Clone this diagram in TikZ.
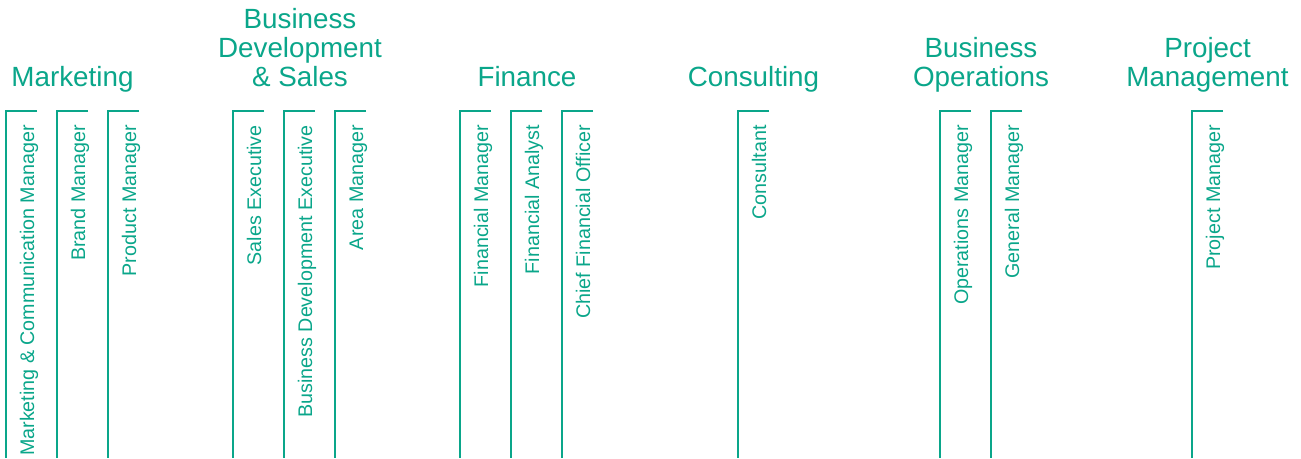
\documentclass[tikz,border=0pt]{standalone}
\usepackage{fontspec}
\setmainfont{Liberation Sans}
\definecolor{jobgreen}{RGB}{10,166,138}

\begin{document}
\begin{tikzpicture}[x=1pt,y=-1pt,
  rail/.style={draw=jobgreen,line width=1.4pt},
  field/.style={text=jobgreen,font=\fontsize{27.8}{29}\selectfont,align=center,anchor=south,text depth=0pt,inner sep=0pt},
  job/.style={text=jobgreen,font=\fontsize{19.7}{22}\selectfont,rotate=90,anchor=base east,inner sep=0pt}
]
  \useasboundingbox (0,0) rectangle (1301,458);
  % field titles
  \node[field] (marketing) at (72.5,87) {Marketing};
  \node[field] (business) at (300,87) {Business\\Development\\\& Sales};
  \node[field] (finance) at (527,87) {Finance};
  \node[field] (consulting) at (753.5,87) {Consulting};
  \node[field] (operations) at (981,87) {Business\\Operations};
  \node[field] (project) at (1207.5,87) {Project\\Management};
  % job rails
  \foreach \lx/\lbl [count=\i] in {6/Marketing \& Communication Manager,57/Brand Manager,108/Product Manager,
      233/Sales Executive,284/Business Development Executive,335/Area Manager,
      460/Financial Manager,511/Financial Analyst,562/Chief Financial Officer,
      738/Consultant,940/Operations Manager,991/General Manager,1192/Project Manager}
  {
    \draw[rail] (\lx+31,111) -- (\lx,111) -- (\lx,458);
    \node[job] (job\i) at (\lx+28,125) {\lbl};
  }
\end{tikzpicture}
\end{document}
